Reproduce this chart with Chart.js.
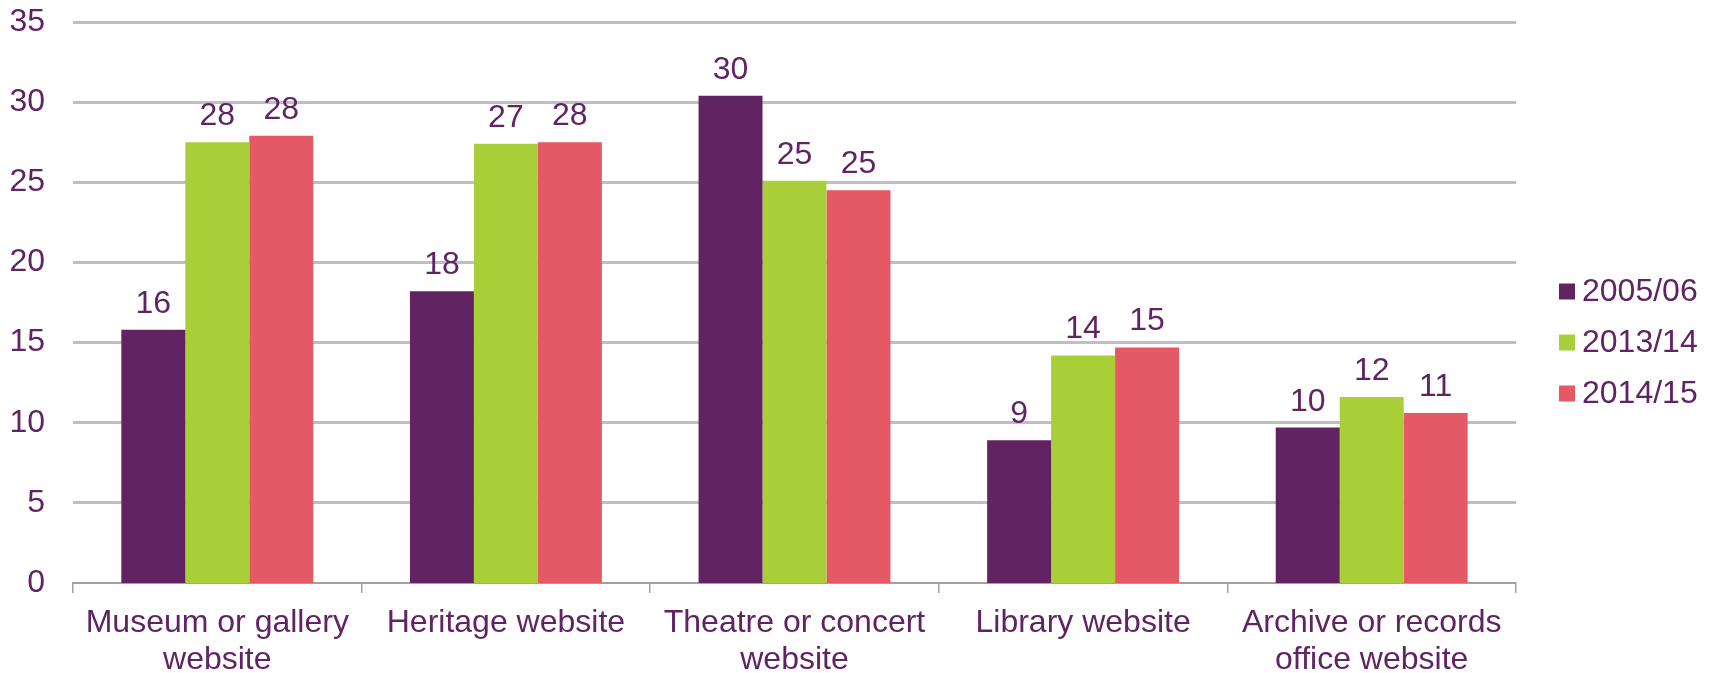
<!DOCTYPE html>
<html>
<head>
<meta charset="utf-8">
<title>Website visits by year</title>
<script src="https://cdn.jsdelivr.net/npm/chart.js@4/dist/chart.umd.min.js"></script>
<style>
  html, body { margin: 0; padding: 0; background: #fff; overflow: hidden; }
  #wrap { width: 1713px; height: 673px; position: relative; }
</style>
</head>
<body>
<div id="wrap"><canvas id="visitsChart"></canvas></div>
<script>
// categories (multi-line labels are arrays)
const categories = [
  ['Museum or gallery', 'website'],
  'Heritage website',
  ['Theatre or concert', 'website'],
  'Library website',
  ['Archive or records', 'office website']
];
const seriesNames = ['2005/06', '2013/14', '2014/15'];
const visits0506 = [15.8, 18.2, 30.4, 8.9, 9.7];
const visits1314 = [27.5, 27.4, 25.1, 14.2, 11.6];
const visits1415 = [27.9, 27.5, 24.5, 14.7, 10.6];
const yTicks = [0, 5, 10, 15, 20, 25, 30, 35];

const TEXT = '#602363';
const FONT = "'Liberation Sans', Arial, sans-serif";
const SIZE = 32;
const colors = ['#622363', '#a9cf38', '#e55866'];

// value labels above each bar
const barLabels = {
  id: 'barLabels',
  afterDatasetsDraw(chart) {
    const ctx = chart.ctx;
    ctx.save();
    ctx.font = SIZE + 'px ' + FONT;
    ctx.fillStyle = TEXT;
    ctx.textAlign = 'center';
    ctx.textBaseline = 'alphabetic';
    chart.data.datasets.forEach((ds, i) => {
      chart.getDatasetMeta(i).data.forEach((bar, j) => {
        ctx.fillText(Math.round(ds.data[j]), bar.x, bar.y - 17);
      });
    });
    ctx.restore();
  }
};

// legend on the right: small square + series name, stacked
const sideLegend = {
  id: 'sideLegend',
  afterDraw(chart) {
    const ctx = chart.ctx;
    const x = chart.chartArea.right + 43;
    const step = 51;
    const midY = chart.height / 2 + 6;
    ctx.save();
    ctx.font = SIZE + 'px ' + FONT;
    ctx.textAlign = 'left';
    ctx.textBaseline = 'middle';
    chart.data.datasets.forEach((ds, i) => {
      const cy = midY + (i - 1) * step;
      ctx.fillStyle = ds.backgroundColor;
      ctx.fillRect(x, cy - 8, 16, 16);
      ctx.fillStyle = TEXT;
      ctx.fillText(ds.label, x + 23, cy + 1);
    });
    ctx.restore();
  }
};

const ctx = document.getElementById('visitsChart').getContext('2d');
new Chart(ctx, {
  type: 'bar',
  data: {
    labels: categories,
    datasets: [visits0506, visits1314, visits1415].map((d, i) => ({
      label: seriesNames[i],
      data: d,
      backgroundColor: colors[i],
      borderWidth: 0,
      categoryPercentage: 0.665,
      barPercentage: 1.0
    }))
  },
  options: {
    responsive: true,
    maintainAspectRatio: false,
    animation: false,
    layout: { padding: { top: 22, left: 11, right: 197, bottom: 0 } },
    plugins: {
      tooltip: { enabled: false },
      legend: { display: false }
    },
    scales: {
      x: {
        afterFit: (s) => { s.height = 90; s.paddingLeft = 0; s.paddingRight = 0; },
        grid: {
          display: true,
          drawOnChartArea: false,
          drawTicks: true,
          tickLength: 10,
          color: '#a99ca9',
          lineWidth: 1.5
        },
        border: { display: true, color: '#a99ca9', width: 2 },
        ticks: {
          color: TEXT,
          font: { family: FONT, size: SIZE, lineHeight: 1.15 },
          padding: 12,
          maxRotation: 0,
          autoSkip: false
        }
      },
      y: {
        min: 0,
        max: 35,
        afterBuildTicks: (axis) => { axis.ticks = yTicks.map(v => ({ value: v })); },
        afterFit: (s) => { s.width = 62; s.paddingTop = 0; s.paddingBottom = 0; },
        grid: {
          color: '#bfbfbf',
          lineWidth: (c) => (c.tick && c.tick.value === 0 ? 0 : 3),
          drawTicks: false
        },
        border: { display: false },
        ticks: {
          color: TEXT,
          font: { family: FONT, size: SIZE },
          padding: 28
        }
      }
    }
  },
  plugins: [barLabels, sideLegend]
});
</script>
</body>
</html>
